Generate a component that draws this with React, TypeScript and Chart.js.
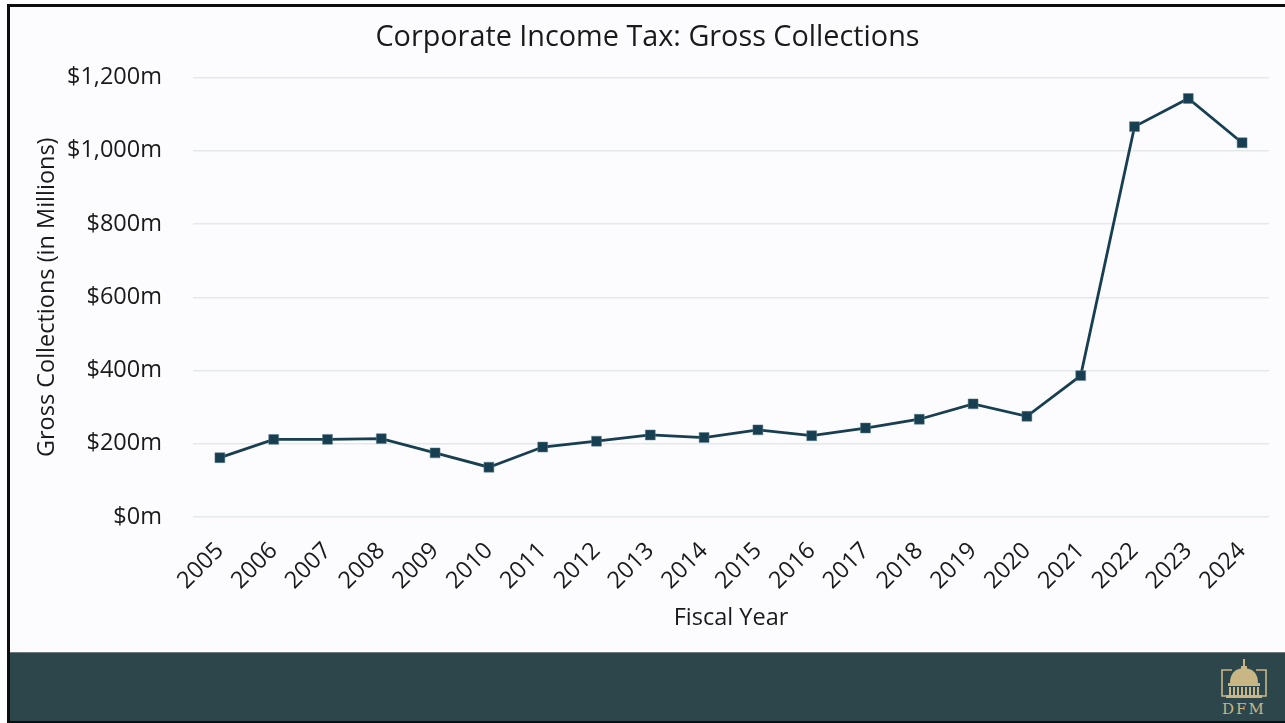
import React, { useEffect, useRef } from "react";
import { Chart, registerables } from "chart.js";

Chart.register(...registerables);

const years = ["2005","2006","2007","2008","2009","2010","2011","2012","2013","2014","2015","2016","2017","2018","2019","2020","2021","2022","2023","2024"];
const grossCollections = [162, 212, 212, 214, 175, 136, 191, 207, 224, 217, 238, 222, 243, 267, 309, 275, 386, 1066, 1143, 1022];
const yTicks = [0, 200, 400, 600, 800, 1000, 1200];

const FONT = "'Open Sans', 'Noto Sans', sans-serif";
const LINE = "#173f51";

export default function App() {
  const ref = useRef<HTMLCanvasElement | null>(null);

  useEffect(() => {
    if (!ref.current) return;
    const chart = new Chart(ref.current, {
      type: "line",
      data: {
        labels: years,
        datasets: [
          {
            label: "Gross Collections",
            data: grossCollections,
            borderColor: LINE,
            backgroundColor: LINE,
            borderWidth: 2.8,
            pointStyle: "rect",
            pointRadius: 7,
            pointBorderWidth: 0.5,
            pointBorderColor: "#5a7a88",
            pointBackgroundColor: LINE,
            tension: 0,
          },
        ],
      },
      options: {
        animation: false,
        responsive: true,
        maintainAspectRatio: false,
        layout: { padding: { left: 16, right: 16, top: 0, bottom: 0 } },
        plugins: {
          legend: { display: false },
          tooltip: { enabled: false },
          title: {
            display: true,
            text: "Corporate Income Tax: Gross Collections",
            color: "#1a1a1a",
            font: { family: FONT, size: 28.8, weight: "normal", lineHeight: 1.2 },
            padding: { top: 14, bottom: 22 },
          },
        },
        scales: {
          x: {
            type: "category",
            offset: true,
            grid: { display: false, drawTicks: false },
            border: { display: false },
            ticks: {
              color: "#1a1a1a",
              font: { family: FONT, size: 23.5 },
              minRotation: 45,
              maxRotation: 45,
              padding: 20,
              autoSkip: false,
            },
            title: {
              display: true,
              text: "Fiscal Year",
              color: "#1a1a1a",
              font: { family: FONT, size: 23.5, lineHeight: 1.2 },
              padding: { top: 0, bottom: 20 },
            },
            afterFit: (scale: any) => {
              scale.height = 135;
            },
          },
          y: {
            min: 0,
            max: 1200,
            afterBuildTicks: (scale: any) => {
              scale.ticks = yTicks.map((v) => ({ value: v }));
            },
            grid: { color: "#e3e9e9", lineWidth: 1.5, drawTicks: false },
            border: { display: false },
            ticks: {
              color: "#1a1a1a",
              font: { family: FONT, size: 23.5 },
              padding: 31,
              callback: (v: any) => "$" + Number(v).toLocaleString("en-US") + "m",
            },
            title: {
              display: true,
              text: "Gross Collections (in Millions)",
              color: "#1a1a1a",
              font: { family: FONT, size: 23.5, lineHeight: 1.2 },
              padding: { top: 7, bottom: 0 },
            },
            afterFit: (scale: any) => {
              scale.width = 167;
            },
          },
        },
      },
    });
    return () => chart.destroy();
  }, []);

  return (
    <div
      style={{
        position: "absolute",
        left: 7,
        top: 4,
        width: 1300,
        height: 720,
        boxSizing: "border-box",
        border: "3px solid #0d0d0d",
        background: "#fcfbfd",
        overflow: "hidden",
      }}
    >
      <div style={{ position: "absolute", left: 0, top: 0, width: 1275, height: 645 }}>
        <canvas ref={ref} />
      </div>
      <div
        style={{
          position: "absolute",
          left: 0,
          top: 645,
          width: 1300,
          height: 68,
          background: "#2d464b",
          borderTop: "1px solid #6f7a7c",
        }}
      >
        <svg
          width="50"
          height="62"
          viewBox="0 0 50 62"
          style={{ position: "absolute", left: 1209, top: 3 }}
        >
          <g fill="none" stroke="#c8b684" strokeWidth="1.6">
            <polyline points="13,14 3,14 3,40 47,40 47,14 37,14" />
          </g>
          <g fill="#c8b684">
            <rect x="24" y="3" width="2" height="8" />
            <rect x="22" y="10" width="6" height="3" />
            <path d="M11 27 Q11 13 25 12 Q39 13 39 27 Z" />
            <rect x="9" y="27" width="32" height="3" />
            <rect x="10" y="31" width="2" height="8" />
            <rect x="14" y="31" width="2" height="8" />
            <rect x="18" y="31" width="2" height="8" />
            <rect x="22" y="31" width="2" height="8" />
            <rect x="26" y="31" width="2" height="8" />
            <rect x="30" y="31" width="2" height="8" />
            <rect x="34" y="31" width="2" height="8" />
            <rect x="38" y="31" width="2" height="8" />
            <rect x="7" y="39" width="36" height="3" />
          </g>
          <text
            x="25"
            y="58"
            textAnchor="middle"
            fill="#c8b684"
            style={{ font: "15px 'DejaVu Serif', 'Liberation Serif', serif", letterSpacing: "2px" }}
          >
            DFM
          </text>
        </svg>
      </div>
    </div>
  );
}
